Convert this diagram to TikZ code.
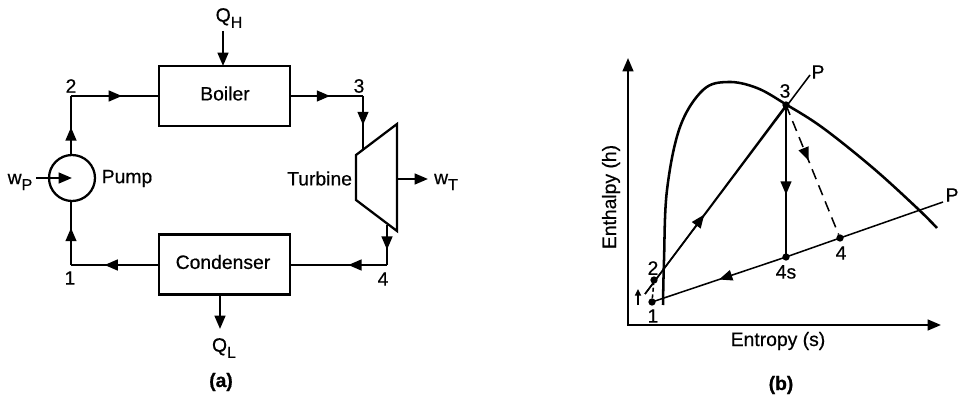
\documentclass[tikz,border=0pt]{standalone}
\usepackage{fontspec}
\setmainfont{Liberation Sans}[RawFeature={embolden=0.5},BoldFont={Liberation Sans Bold}]
\usetikzlibrary{arrows.meta,decorations.markings}
\newcommand{\lowsub}[1]{\raisebox{-0.6ex}{\fontsize{12pt}{12pt}\selectfont #1}}
\tikzset{
  x=0.75pt,y=-0.75pt,
  every node/.style={inner sep=0pt,outer sep=0pt,font=\fontsize{14.5pt}{16pt}\selectfont,text=black},
  heavy/.style={line width=1.7pt,black},
  thin line/.style={line width=1.15pt,black},
  unitbox/.style={draw,heavy,fill=white,minimum width=98.25pt,minimum height=45pt},
  head/.style={-{Triangle[length=10pt,width=8pt]}},
  midtip/.style={postaction={decorate},decoration={markings,mark=at position #1 with {\arrow{Triangle[length=10pt,width=8pt]}}}},
  dot/.style={circle,fill=black,minimum size=5.5pt},
}
\begin{document}
\begin{tikzpicture}
\useasboundingbox (0,0) rectangle (959,395);
% ---------- (a)
\node[unitbox] (boiler) at (224.5,96) {};
\node[unitbox] (condenser) at (224.5,264.5) {};
\node at (225,93.5) {Boiler};
\node at (223,262) {Condenser};
\node[draw,heavy,circle,minimum size=34.5pt] (pump) at (72,178) {};
\node at (127,178.5) {Pump};
\coordinate (c2) at (71,96);
\coordinate (c3) at (363,96);
\coordinate (c4) at (387,265);
\coordinate (c1) at (71,265);
\coordinate (tin) at (363,149);
\coordinate (tout) at (387,225);
\draw[heavy,line join=miter] (356,155) -- (397,124) -- (397,231) -- (356,200) -- cycle;
\node[anchor=east] at (352,178.5) {Turbine};
\draw[heavy,midtip=0.75] (pump.north -| c2) -- (c2 |- 125,118);
\draw[heavy] (c2 |- 125,118) -- (c2);
\draw[heavy,midtip=0.58] (c2) -- (boiler.west |- c2);
\draw[heavy,midtip=0.55] (boiler.east |- c3) -- (c3);
\draw[heavy,midtip=0.55] (c3) -- (tin);
\draw[heavy,midtip=0.62] (tout) -- (c4);
\draw[heavy,midtip=0.4] (c4) -- (condenser.east |- c4);
\draw[heavy,midtip=0.62] (condenser.west |- c1) -- (c1);
\draw[heavy,midtip=0.58] (c1) -- (pump.south -| c1);
\coordinate (qhs) at (223,31);
\coordinate (qle) at (220,329);
\coordinate (wps) at (36,178);
\coordinate (wpe) at (72,178);
\coordinate (wte) at (428,179);
\draw[heavy,head] (qhs) -- (qhs |- boiler.north);
\draw[heavy,head] (condenser.south -| qle) -- (qle);
\draw[heavy,head] (wps) -- (wpe);
\draw[heavy,head] (397,179) -- (wte);
\node at (71,86) {2};
\node at (359,86) {3};
\node at (70,278) {1};
\node at (383,279) {4};
\node at (229,18) {Q\lowsub{H}};
\node at (224,348) {Q\lowsub{L}};
\node at (20,182) {w\lowsub{P}};
\node at (446,182) {w\lowsub{T}};
\node[font=\fontsize{14.5pt}{16pt}\selectfont\bfseries] at (221,382) {(a)};
% ---------- (b)
\coordinate (origin) at (628,325);
\coordinate (ytop) at (628,58);
\coordinate (xend) at (941,325);
\draw[heavy,{Triangle[length=10pt,width=8pt]}-{Triangle[length=10pt,width=8pt]}] (ytop) -- (origin) -- (xend);
\node[rotate=90] at (611,197) {Enthalpy (h)};
\node at (778,341) {Entropy (s)};
\node[font=\fontsize{14.5pt}{16pt}\selectfont\bfseries] at (781,385) {(b)};
\draw[line width=1.9pt,black] plot[smooth,tension=0.6] coordinates {(663,305) (664,260) (667,190) (680,127) (703,90) (728,82) (757,88) (787,105) (823,128) (873,168) (917,208) (937,228)};
\node[dot] (p3) at (786,105) {};
\node[dot] (p2) at (654,280) {};
\node[dot] (p1) at (652,302) {};
\node[dot] (p4s) at (786,257) {};
\node[dot] (p4) at (840,238) {};
\coordinate (pe) at (810,75);
\coordinate (ps) at (645,294);
\coordinate (re) at (943,202);
\draw[thin line] (ps) -- (pe);
\draw[thin line,midtip=0.42] (ps) -- (p3.center);
\draw[thin line] (re) -- (p4.center);
\draw[thin line] (p4.center) -- (p4s.center);
\draw[thin line,midtip=0.5] (p4s.center) -- (p1.center);
\draw[line width=1.6pt,black,midtip=0.59] (p3.center) -- (p4s.center);
\draw[thin line,dashed,dash pattern=on 8pt off 5pt,midtip=0.43] (p3.center) -- (p4);
\draw[thin line,dashed,dash pattern=on 3pt off 2pt] (p1) -- (p2);
\coordinate (ua) at (638,305);
\coordinate (ub) at (638,289);
\draw[thin line,-{Triangle[length=5pt,width=4.5pt]}] (ua) -- (ub);
\node at (653,268) {2};
\node at (653,316) {1};
\node at (785,91) {3};
\node at (786,272) {4s};
\node at (841,253) {4};
\node at (818,72) {P};
\node[anchor=east] at (958.5,195) {P};
\end{tikzpicture}
\end{document}
